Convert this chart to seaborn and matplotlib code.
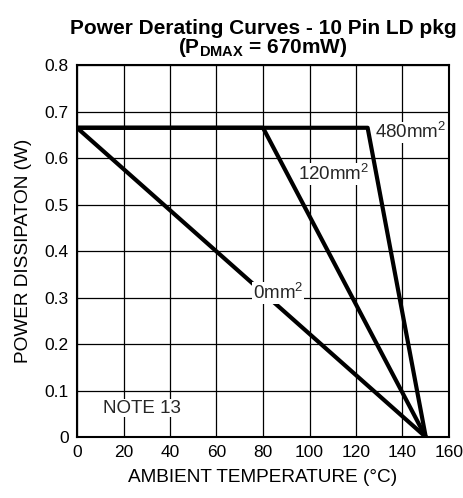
import matplotlib
matplotlib.use('Agg')
import matplotlib.pyplot as plt
import seaborn as sns
import pandas as pd
from matplotlib.ticker import FuncFormatter

# derating curves
temp_0mm = [0, 150]
pwr_0mm = [0.665, 0]
temp_120mm = [0, 80, 150]
pwr_120mm = [0.665, 0.665, 0]
temp_480mm = [0, 125, 150]
pwr_480mm = [0.665, 0.665, 0]

curve_names = ['0mm$^2$', '120mm$^2$', '480mm$^2$']
label_x = [75.5, 95, 128]
label_y = [0.31, 0.565, 0.655]

sns.set_theme(style='white')
plt.rcParams['font.family'] = ['Liberation Sans', 'DejaVu Sans']
plt.rcParams['mathtext.fontset'] = 'custom'
plt.rcParams['mathtext.rm'] = 'Liberation Sans'
plt.rcParams['mathtext.it'] = 'Liberation Sans'
plt.rcParams['mathtext.bf'] = 'Liberation Sans:bold'

df = pd.concat([
    pd.DataFrame({'T': temp_0mm, 'P': pwr_0mm, 'curve': curve_names[0]}),
    pd.DataFrame({'T': temp_120mm, 'P': pwr_120mm, 'curve': curve_names[1]}),
    pd.DataFrame({'T': temp_480mm, 'P': pwr_480mm, 'curve': curve_names[2]}),
])

fig = plt.figure(figsize=(4.64, 4.98), dpi=100)
ax = fig.add_axes([77 / 464, 61 / 498, 372 / 464, 372 / 498])

sns.lineplot(data=df, x='T', y='P', units='curve', estimator=None, color='black',
             linewidth=3, sort=False, ax=ax, zorder=3)

for name, lx, ly in zip(curve_names, label_x, label_y):
    ax.text(lx, ly, name, fontsize=13.5, ha='left', va='center', zorder=4,
            bbox=dict(facecolor='white', edgecolor='none', pad=0.5))
ax.text(11, 0.062, 'NOTE 13', fontsize=13.5, ha='left', va='center', zorder=4,
        bbox=dict(facecolor='white', edgecolor='none', pad=0.5))

ax.set_xlim(0, 160)
ax.set_ylim(0, 0.8)
ax.set_xticks(range(0, 161, 20))
ax.set_yticks([i / 10 for i in range(9)])
ax.yaxis.set_major_formatter(FuncFormatter(lambda v, p: '0' if v == 0 else f'{v:.1f}'))
ax.grid(True, color='black', linewidth=0.9)
ax.set_axisbelow(True)
for s in ax.spines.values():
    s.set_color('black')
    s.set_linewidth(1.5)
ax.tick_params(length=0, labelsize=12.5, colors='black', pad=6)
ax.set_xlabel('AMBIENT TEMPERATURE (°C)', fontsize=13.7, color='black', labelpad=6)
ax.set_ylabel('POWER DISSIPATON (W)', fontsize=13.7, color='black', labelpad=9)
ax.set_title('Power Derating Curves - 10 Pin LD pkg\n($\\mathbf{P_{DMAX}}$ = 670mW)',
             fontsize=15, fontweight='bold', color='black', linespacing=0.85, pad=9)
if ax.get_legend():
    ax.get_legend().remove()

fig.savefig('out.png', dpi=100, facecolor='white')
